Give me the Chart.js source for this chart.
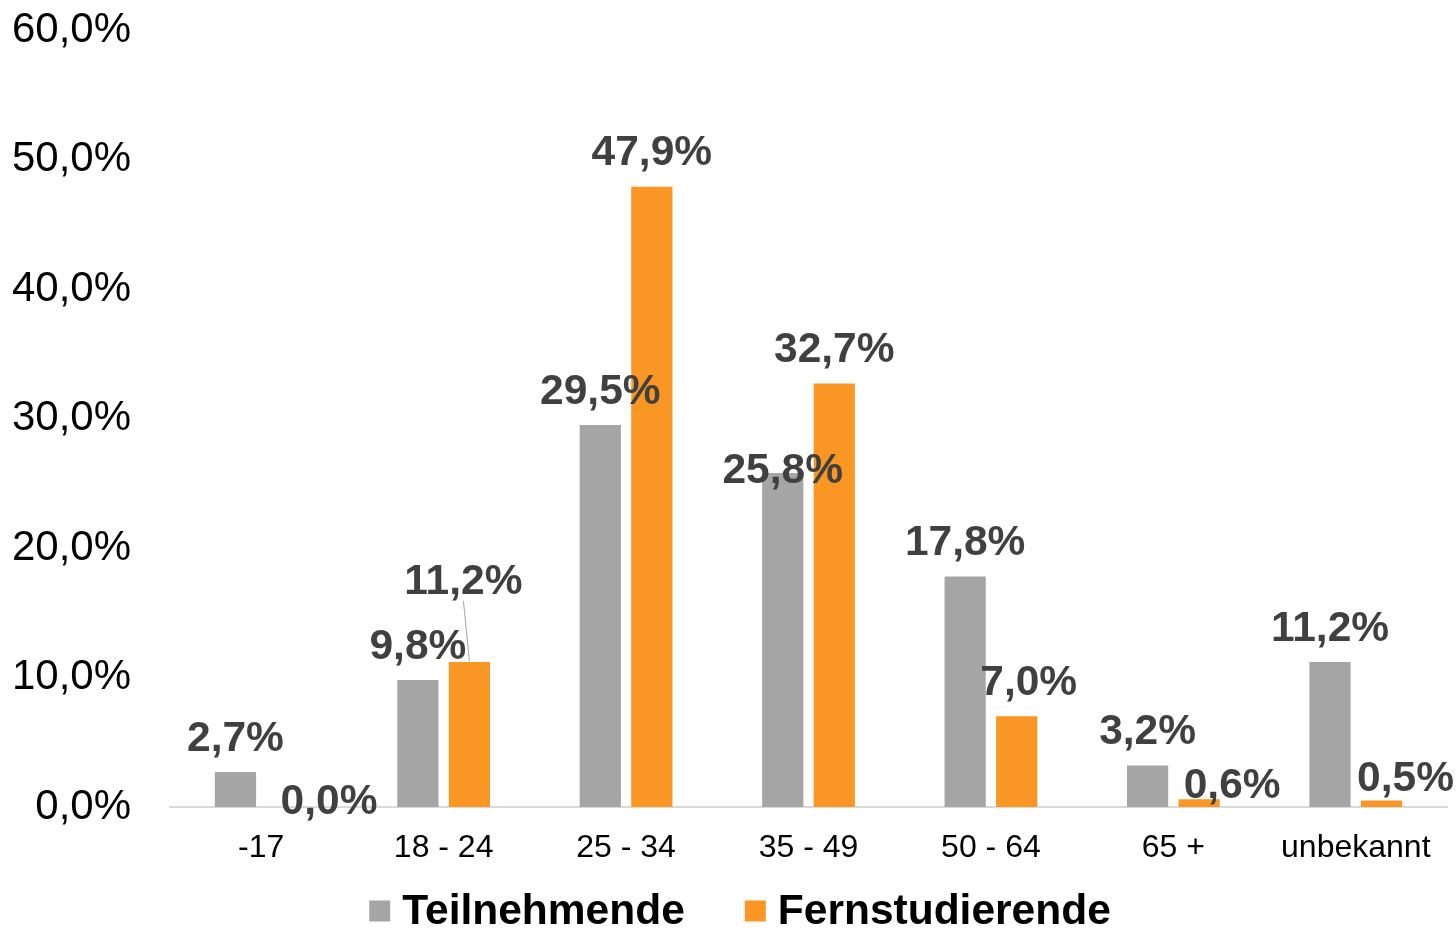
<!DOCTYPE html>
<html>
<head>
<meta charset="utf-8">
<script src="https://cdn.jsdelivr.net/npm/chart.js@4/dist/chart.umd.min.js"></script>
<style>
  html, body { margin: 0; padding: 0; background: #ffffff; }
  #wrap { width: 1456px; height: 928px; position: relative; }
</style>
</head>
<body>
<div id="wrap"><canvas id="c" width="1456" height="928"></canvas></div>
<script>
// ---- data ----
const categories = ['-17', '18 - 24', '25 - 34', '35 - 49', '50 - 64', '65 +', 'unbekannt'];
const seriesNames = ['Teilnehmende', 'Fernstudierende'];
const teilnehmende = [2.7, 9.8, 29.5, 25.8, 17.8, 3.2, 11.2];
const fernstudierende = [0.0, 11.2, 47.9, 32.7, 7.0, 0.6, 0.5];
const yTicks = [0, 10, 20, 30, 40, 50, 60];

// ---- styling ----
const colors = ['#A5A5A5', '#F99624'];
const labelColor = '#404040';
const fontFamily = '"Liberation Sans", Arial, Helvetica, sans-serif';
// manual nudges for overlapping labels (Excel-style adjustments): key "dataset-index"
const labelNudge = {
  '1-0': { dx: 42, dy: 28 },
  '1-1': { dx: -6, dy: -47, leader: true },
  '0-3': { dx: 0, dy: 31 },
  '1-4': { dx: 12, dy: 0 },
  '1-5': { dx: 33, dy: 20 },
  '1-6': { dx: 24, dy: 12 }
};

function fmt(v) {
  return v.toFixed(1).replace('.', ',') + '%';
}

const dataLabelPlugin = {
  id: 'dataLabels',
  afterDatasetsDraw(chart) {
    const ctx = chart.ctx;
    ctx.save();
    ctx.font = 'bold 42.5px ' + fontFamily;
    ctx.textAlign = 'center';
    ctx.textBaseline = 'middle';
    chart.data.datasets.forEach((ds, di) => {
      const meta = chart.getDatasetMeta(di);
      meta.data.forEach((bar, i) => {
        const n = labelNudge[di + '-' + i] || { dx: 0, dy: 0 };
        const x = bar.x + n.dx;
        const y = bar.y - 33 + n.dy;
        if (n.leader) {
          ctx.strokeStyle = '#A6A6A6';
          ctx.lineWidth = 1;
          ctx.beginPath();
          ctx.moveTo(x, y + 19);
          ctx.lineTo(bar.x, bar.y - 1);
          ctx.stroke();
        }
        ctx.fillStyle = labelColor;
        ctx.fillText(fmt(ds.data[i]), x, y);
      });
    });
    ctx.restore();
  }
};

const legendPlugin = {
  id: 'customLegend',
  afterDraw(chart) {
    const ctx = chart.ctx;
    ctx.save();
    ctx.font = 'bold 42.5px ' + fontFamily;
    ctx.textBaseline = 'middle';
    ctx.textAlign = 'left';
    const box = 21, gapText = 12, gapItem = 60;
    const widths = seriesNames.map(s => ctx.measureText(s).width);
    const total = widths.reduce((a, w) => a + box + gapText + w, 0) + gapItem * (seriesNames.length - 1);
    let x = chart.width / 2 + 12 - total / 2;
    const cy = 911;
    seriesNames.forEach((s, k) => {
      ctx.fillStyle = colors[k];
      ctx.fillRect(x, cy - box / 2, box, box);
      ctx.fillStyle = '#000000';
      ctx.fillText(s, x + box + gapText, cy + 1);
      x += box + gapText + widths[k] + gapItem;
    });
    ctx.restore();
  }
};

new Chart(document.getElementById('c'), {
  type: 'bar',
  data: {
    labels: categories,
    datasets: [
      { label: seriesNames[0], data: teilnehmende, backgroundColor: colors[0] },
      { label: seriesNames[1], data: fernstudierende, backgroundColor: colors[1] }
    ]
  },
  options: {
    responsive: false,
    animation: false,
    devicePixelRatio: 1,
    layout: { padding: { top: 30, right: 9, bottom: 71, left: 0 } },
    datasets: {
      bar: { categoryPercentage: 0.565, barPercentage: 0.80 }
    },
    plugins: {
      legend: { display: false },
      tooltip: { enabled: false }
    },
    scales: {
      x: {
        grid: { display: false, drawTicks: false },
        border: { display: true, color: '#D9D9D9', width: 2 },
        ticks: { color: '#000000', font: { family: fontFamily, size: 32 }, padding: 22, maxRotation: 0, autoSkip: false },
        afterFit(scale) { scale.height = 50; scale.paddingLeft = 0; scale.paddingRight = 0; }
      },
      y: {
        min: 0,
        max: 60,
        grid: { display: false, drawTicks: false },
        border: { display: false },
        afterBuildTicks(scale) { scale.ticks = yTicks.map(v => ({ value: v })); },
        ticks: {
          color: '#000000',
          font: { family: fontFamily, size: 42 },
          padding: 39,
          callback: v => fmt(v)
        },
        afterFit(scale) { scale.width = 170; scale.paddingTop = 0; scale.paddingBottom = 0; }
      }
    }
  },
  plugins: [dataLabelPlugin, legendPlugin]
});
</script>
</body>
</html>
